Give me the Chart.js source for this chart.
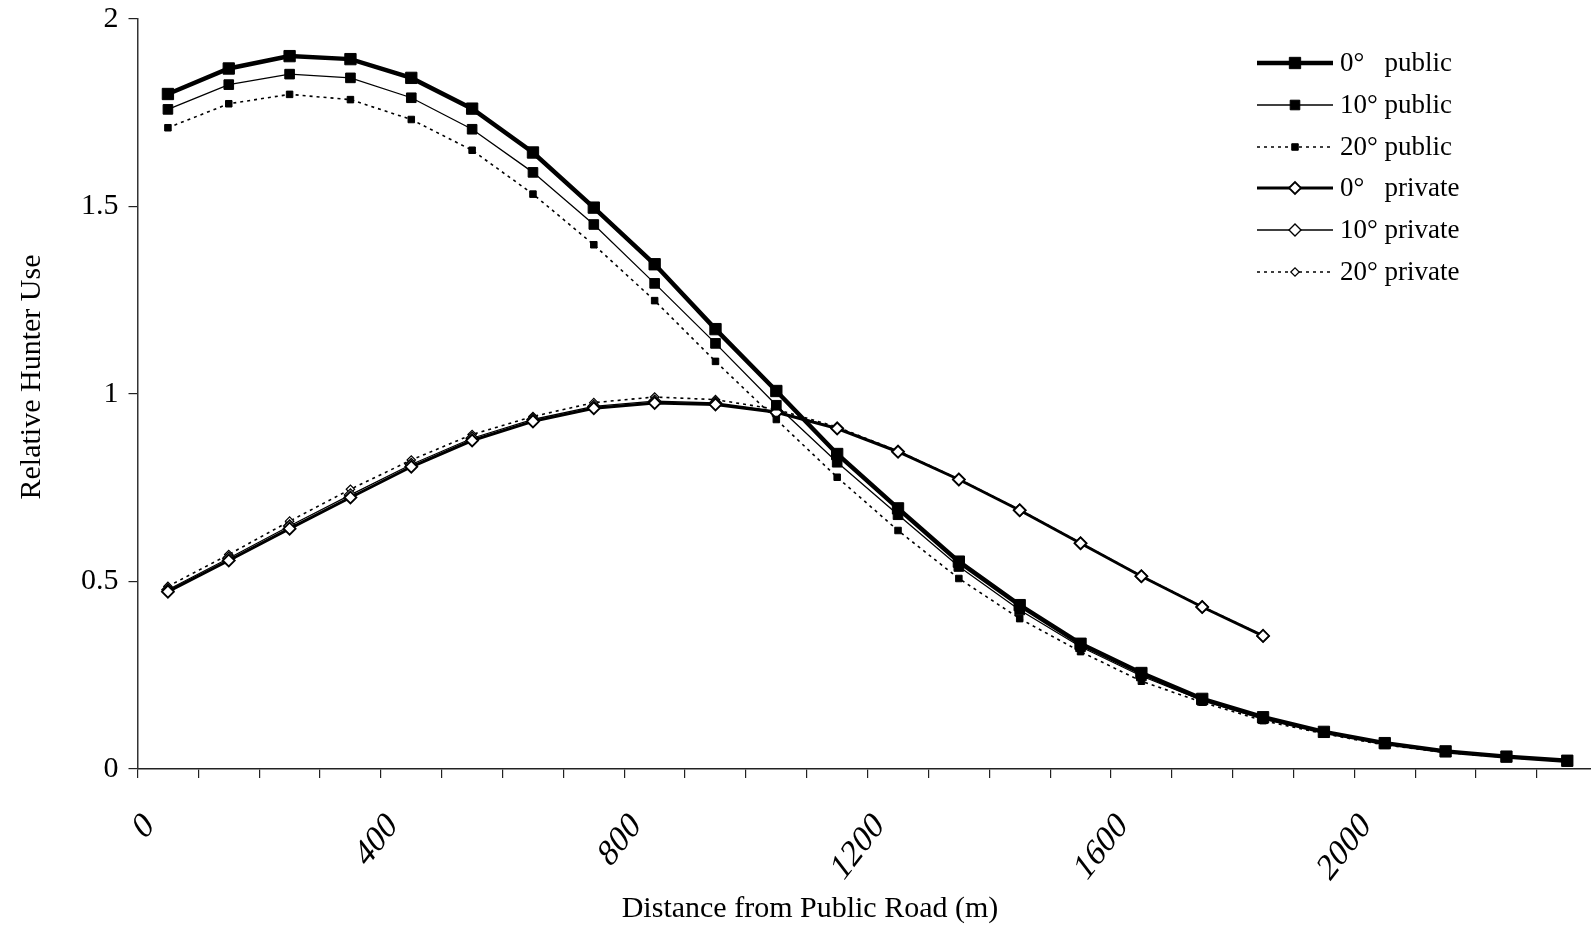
<!DOCTYPE html>
<html>
<head>
<meta charset="utf-8">
<script src="https://cdn.jsdelivr.net/npm/chart.js@4/dist/chart.umd.min.js"></script>
<style>
  html, body { margin: 0; padding: 0; background: #ffffff; overflow: hidden; }
  #wrap { width: 1591px; height: 929px; overflow: hidden; }
  #c { display: block; }
</style>
</head>
<body>
<div id="wrap"><canvas id="c" width="1591" height="929"></canvas></div>
<script>
// Distance from public road (m): public-land points run to 2350 m, private-land to 1850 m
const distPublic = [50, 150, 250, 350, 450, 550, 650, 750, 850, 950, 1050, 1150,
                    1250, 1350, 1450, 1550, 1650, 1750, 1850, 1950, 2050, 2150, 2250, 2350];
const distPrivate = [50, 150, 250, 350, 450, 550, 650, 750, 850, 950, 1050, 1150,
                     1250, 1350, 1450, 1550, 1650, 1750, 1850];

// Relative hunter use by slope threshold
const public0 = [1.800, 1.868, 1.901, 1.893, 1.843, 1.761, 1.644, 1.497, 1.346, 1.173, 1.008, 0.840,
                 0.695, 0.553, 0.437, 0.334, 0.256, 0.187, 0.138, 0.099, 0.069, 0.047, 0.033, 0.022];
const public10 = [1.759, 1.825, 1.853, 1.843, 1.790, 1.706, 1.591, 1.452, 1.295, 1.135, 0.970, 0.818,
                  0.678, 0.540, 0.424, 0.326, 0.248, 0.183, 0.134, 0.097, 0.067, 0.046, 0.032, 0.021];
const public20 = [1.710, 1.774, 1.799, 1.785, 1.732, 1.650, 1.533, 1.398, 1.249, 1.087, 0.932, 0.778,
                  0.636, 0.508, 0.401, 0.313, 0.234, 0.178, 0.129, 0.094, 0.064, 0.044, 0.031, 0.020];
const private0 = [0.473, 0.556, 0.641, 0.724, 0.806, 0.876, 0.927, 0.962, 0.976, 0.972, 0.951, 0.908,
                  0.846, 0.772, 0.690, 0.602, 0.514, 0.432, 0.355];
const private10 = [0.478, 0.562, 0.648, 0.731, 0.812, 0.882, 0.932, 0.967, 0.981, 0.976, 0.954, 0.909,
                   0.847, 0.772, 0.690, 0.602, 0.514, 0.432, 0.355];
const private20 = [0.487, 0.572, 0.661, 0.746, 0.824, 0.892, 0.940, 0.977, 0.992, 0.985, 0.959, 0.912,
                   0.848, 0.773, 0.691, 0.603, 0.515, 0.433, 0.356];

const seriesNames = ['0\u00B0   public', '10\u00B0 public', '20\u00B0 public',
                     '0\u00B0   private', '10\u00B0 private', '20\u00B0 private'];

// Axis ticks and labels
const xTickValues = [0, 100, 200, 300, 400, 500, 600, 700, 800, 900, 1000, 1100,
                     1200, 1300, 1400, 1500, 1600, 1700, 1800, 1900, 2000, 2100, 2200, 2300];
const xTickLabels = [0, 400, 800, 1200, 1600, 2000];
const yTickValues = [0, 0.5, 1, 1.5, 2];
const xTitle = 'Distance from Public Road (m)';
const yTitle = 'Relative Hunter Use';

const SERIF = '"Liberation Serif", "Times New Roman", serif';
const INK = '#000000';

function pts(xs, ys) { return xs.map((x, i) => ({ x: x, y: ys[i] })); }

const styles = [
  { line: 4.5, dash: [], point: 'rect', r: 8.0, pbw: 1, fill: INK },
  { line: 1.3, dash: [], point: 'rect', r: 6.8, pbw: 1, fill: INK },
  { line: 1.6, dash: [3, 4], point: 'rect', r: 4.6, pbw: 1, fill: INK },
  { line: 3.0, dash: [], point: 'rectRot', r: 6.0, pbw: 1.8, fill: '#ffffff' },
  { line: 1.3, dash: [], point: 'rectRot', r: 6.0, pbw: 1.4, fill: '#ffffff' },
  { line: 1.6, dash: [3, 4], point: 'rectRot', r: 4.2, pbw: 1.2, fill: '#ffffff' }
];
const seriesData = [pts(distPublic, public0), pts(distPublic, public10), pts(distPublic, public20),
                    pts(distPrivate, private0), pts(distPrivate, private10), pts(distPrivate, private20)];

const datasets = seriesNames.map((name, i) => ({
  label: name,
  data: seriesData[i],
  borderColor: INK,
  borderWidth: styles[i].line,
  borderDash: styles[i].dash,
  backgroundColor: styles[i].fill,
  pointStyle: styles[i].point,
  pointRadius: styles[i].r,
  pointHoverRadius: styles[i].r,
  pointBorderWidth: styles[i].pbw,
  pointBorderColor: INK,
  pointBackgroundColor: styles[i].fill,
  tension: 0,
  fill: false
}));

// White page background
const backdrop = {
  id: 'backdrop',
  beforeDraw(chart) {
    const ctx = chart.ctx;
    ctx.save();
    ctx.fillStyle = '#ffffff';
    ctx.fillRect(0, 0, chart.width, chart.height);
    ctx.restore();
  }
};

// Slanted x tick labels, axis titles and the line-sample legend
const decorations = {
  id: 'decorations',
  afterDraw(chart) {
    const ctx = chart.ctx;
    const xs = chart.scales.x;
    ctx.save();
    ctx.fillStyle = INK;

    ctx.font = '30px ' + SERIF;
    ctx.textAlign = 'right';
    ctx.textBaseline = 'middle';
    xTickLabels.forEach(v => {
      const px = xs.getPixelForValue(v);
      ctx.save();
      ctx.translate(px + 12, 820);
      ctx.scale(1, 1.3);
      ctx.rotate(-Math.PI / 4);
      ctx.fillText(String(v), 0, 0);
      ctx.restore();
    });

    ctx.textAlign = 'center';
    ctx.fillText(xTitle, 810, 909);
    ctx.save();
    ctx.translate(32, 377);
    ctx.rotate(-Math.PI / 2);
    ctx.fillText(yTitle, 0, 0);
    ctx.restore();

    // legend
    const rowY = [63, 105, 147, 188, 230, 272];
    const x0 = 1257, x1 = 1333, mx = 1295, tx = 1340;
    ctx.font = '27px ' + SERIF;
    ctx.textAlign = 'left';
    ctx.textBaseline = 'middle';
    seriesNames.forEach((name, i) => {
      const s = styles[i];
      const y = rowY[i];
      ctx.save();
      ctx.strokeStyle = INK;
      ctx.lineWidth = s.line;
      ctx.setLineDash(s.dash);
      ctx.beginPath();
      ctx.moveTo(x0, y);
      ctx.lineTo(x1, y);
      ctx.stroke();
      ctx.setLineDash([]);
      ctx.fillStyle = s.fill;
      ctx.strokeStyle = INK;
      ctx.lineWidth = s.pbw;
      Chart.helpers.drawPoint(ctx, { pointStyle: s.point, radius: s.r, rotation: 0, borderWidth: s.pbw }, mx, y);
      ctx.restore();
      ctx.fillStyle = INK;
      ctx.fillText(name, tx, y + 1);
    });
    ctx.restore();
  }
};

new Chart(document.getElementById('c'), {
  type: 'line',
  data: { datasets: datasets },
  plugins: [backdrop, decorations],
  options: {
    responsive: false,
    animation: false,
    events: [],
    layout: { autoPadding: false, padding: { top: 19, right: 0, bottom: 0, left: 0 } },
    plugins: { legend: { display: false }, tooltip: { enabled: false }, title: { display: false } },
    scales: {
      x: {
        type: 'linear',
        min: 0,
        max: 2389,
        afterBuildTicks(scale) { scale.ticks = xTickValues.map(v => ({ value: v })); },
        afterFit(scale) { scale.height = 160; },
        ticks: { display: false },
        grid: { display: true, drawOnChartArea: false, drawTicks: true, tickLength: 9, color: '#222', lineWidth: 1.2 },
        border: { display: true, color: '#222', width: 1.5 }
      },
      y: {
        type: 'linear',
        min: 0,
        max: 2,
        afterBuildTicks(scale) { scale.ticks = yTickValues.map(v => ({ value: v })); },
        afterFit(scale) { scale.width = 137.5; },
        ticks: { color: INK, font: { family: SERIF, size: 30, lineHeight: 0.5 }, padding: 10, callback: v => String(v) },
        grid: { display: true, drawOnChartArea: false, drawTicks: true, tickLength: 9, color: '#222', lineWidth: 1.2 },
        border: { display: true, color: '#333', width: 1.5 }
      }
    }
  }
});
</script>
</body>
</html>
